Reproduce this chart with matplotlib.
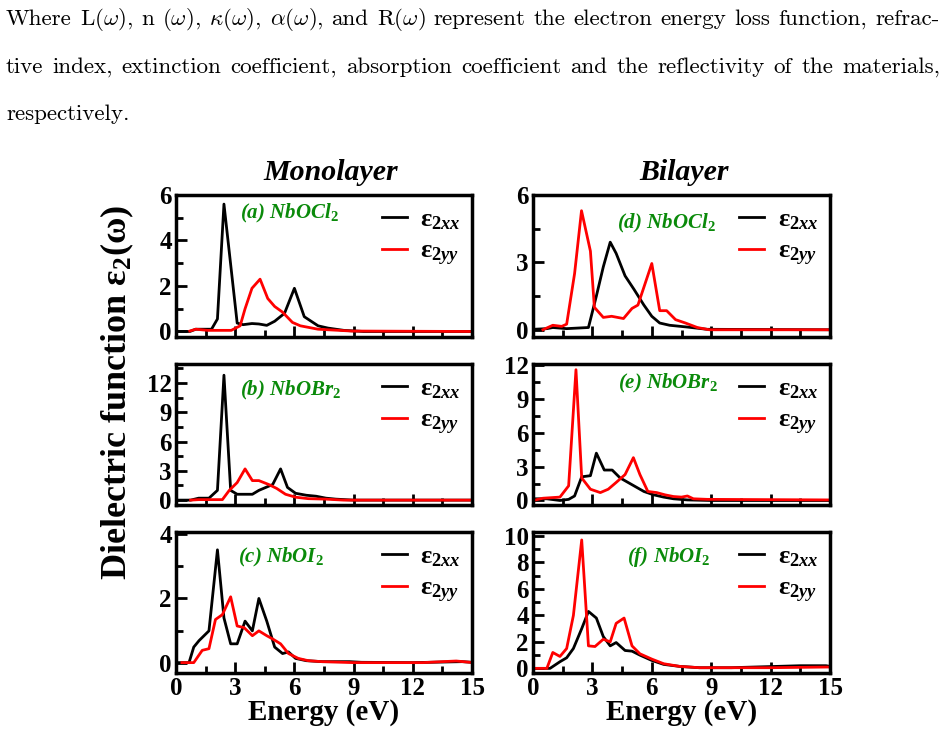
import matplotlib
matplotlib.use('Agg')
import matplotlib.pyplot as plt
from matplotlib.ticker import MultipleLocator

plt.rcParams['font.family'] = ['Liberation Serif', 'DejaVu Serif']
plt.rcParams['font.weight'] = 'bold'
plt.rcParams['mathtext.fontset'] = 'custom'
plt.rcParams['mathtext.rm'] = 'Liberation Serif:bold'
plt.rcParams['mathtext.it'] = 'Liberation Serif:italic:bold'
plt.rcParams['mathtext.bf'] = 'Liberation Serif:bold'

# ---- data (energy in eV, eps2) ----
# (a) monolayer NbOCl2
a_xx_e = [0, 0.7, 1.0, 1.8, 2.1, 2.43, 3.1, 3.4, 3.85, 4.2, 4.6, 5.0, 5.5, 6.0, 6.5, 7.2, 7.7, 8.5, 9.5, 15]
a_xx = [0.0, 0.0, 0.1, 0.1, 0.55, 5.6, 0.37, 0.3, 0.35, 0.33, 0.27, 0.45, 0.8, 1.9, 0.65, 0.25, 0.15, 0.05, 0.0, 0.0]
a_yy_e = [0.7, 1.0, 1.6, 2.8, 3.25, 3.5, 3.85, 4.26, 4.65, 5.0, 5.4, 5.9, 6.3, 7.2, 8.9, 15]
a_yy = [0.02, 0.1, 0.05, 0.05, 0.25, 1.0, 1.9, 2.3, 1.45, 1.1, 0.85, 0.4, 0.25, 0.1, 0.02, 0.0]

# (b) monolayer NbOBr2
b_xx_e = [0, 0.74, 1.15, 1.67, 2.1, 2.43, 2.77, 3.1, 3.45, 3.87, 4.2, 4.9, 5.3, 5.65, 6.06, 6.6, 7.1, 7.6, 8.1, 9.0, 15]
b_xx = [0, 0, 0.2, 0.2, 1.0, 12.8, 1.0, 0.6, 0.6, 0.6, 1.0, 1.6, 3.2, 1.3, 0.7, 0.5, 0.4, 0.2, 0.1, 0.0, 0.0]
b_yy_e = [0.74, 1.15, 2.35, 2.7, 3.1, 3.5, 3.87, 4.2, 4.7, 5.1, 5.55, 6.06, 6.7, 7.6, 8.5, 15]
b_yy = [0, 0.05, 0.05, 1.0, 1.8, 3.2, 2.0, 2.0, 1.6, 1.2, 0.6, 0.3, 0.15, 0.1, 0.0, 0.0]

# (c) monolayer NbOI2
c_xx_e = [0, 0.66, 0.9, 1.17, 1.67, 2.1, 2.43, 2.77, 3.1, 3.5, 3.87, 4.2, 4.6, 5.0, 5.4, 5.7, 6.06, 6.6, 7.4, 8.8, 9.4, 12, 14.5, 15]
c_xx = [0.02, 0.02, 0.5, 0.7, 1.0, 3.5, 1.4, 0.6, 0.6, 1.3, 1.0, 2.0, 1.3, 0.5, 0.3, 0.35, 0.15, 0.08, 0.05, 0.05, 0.03, 0.02, 0.05, 0.03]
c_yy_e = [0.3, 0.9, 1.33, 1.67, 2.0, 2.35, 2.77, 3.1, 3.45, 3.87, 4.2, 4.6, 4.9, 5.3, 5.7, 6.2, 6.7, 7.4, 9.0, 12.5, 13.5, 14.2, 14.9, 15]
c_yy = [0.02, 0.02, 0.4, 0.45, 1.35, 1.5, 2.05, 1.15, 1.1, 0.85, 1.0, 0.85, 0.75, 0.6, 0.3, 0.15, 0.08, 0.05, 0.02, 0.02, 0.05, 0.07, 0.03, 0.02]

# (d) bilayer NbOCl2
d_xx_e = [0, 0.7, 1.0, 1.7, 2.8, 3.2, 3.55, 3.9, 4.2, 4.65, 5.1, 5.6, 6.0, 6.4, 6.9, 7.8, 8.8, 15]
d_xx = [0.02, 0.05, 0.1, 0.05, 0.1, 1.5, 2.8, 3.9, 3.4, 2.4, 1.8, 1.1, 0.6, 0.3, 0.2, 0.12, 0.02, 0.0]
d_yy_e = [0.5, 1.0, 1.45, 1.7, 2.1, 2.45, 2.9, 3.1, 3.55, 3.97, 4.57, 5.0, 5.3, 6.0, 6.4, 6.75, 7.2, 7.7, 8.3, 8.9, 15]
d_yy = [0.0, 0.2, 0.15, 0.25, 2.5, 5.3, 3.5, 1.0, 0.55, 0.6, 0.5, 0.95, 1.1, 2.95, 0.85, 0.85, 0.45, 0.3, 0.1, 0.0, 0.0]

# (e) bilayer NbOBr2
e_xx_e = [0, 0.7, 1.36, 1.8, 2.1, 2.46, 2.9, 3.2, 3.6, 4.0, 4.4, 4.8, 5.2, 5.6, 6.1, 6.6, 7.1, 7.8, 9.0, 15]
e_xx = [0.15, 0.15, 0.0, 0.1, 0.4, 2.1, 2.2, 4.2, 2.7, 2.7, 2.0, 1.6, 1.2, 0.8, 0.5, 0.3, 0.15, 0.05, 0.0, 0.0]
e_yy_e = [0, 0.5, 1.36, 1.8, 2.17, 2.46, 2.9, 3.4, 3.8, 4.2, 4.65, 5.07, 5.4, 5.8, 6.25, 6.67, 7.1, 7.5, 7.8, 8.1, 8.8, 15]
e_yy = [0.0, 0.2, 0.3, 1.3, 11.6, 2.0, 1.0, 0.7, 1.0, 1.6, 2.3, 3.8, 2.3, 0.8, 0.7, 0.5, 0.35, 0.3, 0.4, 0.15, 0.1, 0.05]

# (f) bilayer NbOI2
f_xx_e = [0, 0.86, 1.36, 1.7, 2.04, 2.46, 2.8, 3.2, 3.55, 3.9, 4.2, 4.65, 5.0, 5.4, 6.0, 6.6, 7.4, 8.4, 10, 13.5, 14.8, 15]
f_xx = [0.0, 0.0, 0.5, 0.8, 1.5, 3.0, 4.3, 3.8, 2.4, 1.7, 1.95, 1.35, 1.3, 1.0, 0.6, 0.3, 0.15, 0.05, 0.05, 0.2, 0.2, 0.15]
f_yy_e = [0, 0.7, 1.0, 1.36, 1.7, 2.04, 2.46, 2.8, 3.13, 3.55, 3.9, 4.2, 4.6, 5.0, 5.4, 6.0, 6.6, 7.4, 8.4, 12, 14.8, 15]
f_yy = [0.0, 0.0, 1.2, 0.9, 1.5, 4.0, 9.7, 1.7, 1.65, 2.2, 2.0, 3.4, 3.8, 1.7, 1.1, 0.7, 0.35, 0.15, 0.05, 0.05, 0.1, 0.1]

labels = ['(a) NbOCl$_{\\mathit{2}}$', '(b) NbOBr$_{\\mathit{2}}$', '(c) NbOI$_{\\mathit{2}}$',
          '(d) NbOCl$_{\\mathit{2}}$', '(e) NbOBr$_{\\mathit{2}}$', '(f) NbOI$_{\\mathit{2}}$']

W, H = 947, 735
fig = plt.figure(figsize=(W / 100, H / 100), dpi=100)

def box(x0, y0, x1, y1):
    return [x0 / W, 1 - y1 / H, (x1 - x0) / W, (y1 - y0) / H]

cols = [(176, 472), (533, 830)]
rows = [(195, 336.5), (363.5, 505), (532, 673)]

panels = [
    (a_xx_e, a_xx, a_yy_e, a_yy, (-0.22, 6), 2, 1, (0.216, 0.87)),
    (b_xx_e, b_xx, b_yy_e, b_yy, (-0.5, 14), 3, 1.5, (0.216, 0.81)),
    (c_xx_e, c_xx, c_yy_e, c_yy, (-0.3, 4.05), 2, 1, (0.21, 0.82)),
    (d_xx_e, d_xx, d_yy_e, d_yy, (-0.3, 6), 3, 1.5, (0.283, 0.80)),
    (e_xx_e, e_xx, e_yy_e, e_yy, (-0.4, 12.15), 3, 1.5, (0.286, 0.86)),
    (f_xx_e, f_xx, f_yy_e, f_yy, (-0.35, 10.3), 2, 1, (0.316, 0.82)),
]

for i, (xe, xv, ye, yv, ylim, maj, mnr, lpos) in enumerate(panels):
    c, r = divmod(i, 3)
    ax = fig.add_axes(box(cols[c][0], rows[r][0], cols[c][1], rows[r][1]))
    ax.plot(xe, xv, color='black', lw=2.0, label='ε$_{\\mathit{2xx}}$')
    ax.plot(ye, yv, color='red', lw=2.0, label='ε$_{\\mathit{2yy}}$')
    ax.set_xlim(0, 15)
    ax.set_ylim(*ylim)
    ax.xaxis.set_major_locator(MultipleLocator(3))
    ax.xaxis.set_minor_locator(MultipleLocator(1.5))
    ax.yaxis.set_major_locator(MultipleLocator(maj))
    ax.yaxis.set_minor_locator(MultipleLocator(mnr))
    ax.tick_params(which='both', direction='in', top=False, right=False, width=2)
    ax.tick_params(which='major', length=8, labelsize=18, pad=3)
    ax.tick_params(which='minor', length=5)
    for lab in ax.get_xticklabels() + ax.get_yticklabels():
        lab.set_fontweight('bold')
    for s in ax.spines.values():
        s.set_linewidth(2.5)
    if r < 2:
        ax.tick_params(labelbottom=False)
    ax.text(lpos[0], lpos[1], labels[i], transform=ax.transAxes, color='#0a8a0a',
            fontsize=15, fontstyle='italic', fontweight='bold', va='center')
    ax.legend(loc='upper left', bbox_to_anchor=(0.65, 1.0), frameon=False,
              fontsize=19, handlelength=0.95, handletextpad=0.5, labelspacing=0.3,
              borderaxespad=0.1)

fig.text(331 / W, 1 - 172 / H, 'Monolayer', fontsize=21.5, fontstyle='italic',
         fontweight='bold', ha='center', va='center')
fig.text(684 / W, 1 - 172 / H, 'Bilayer', fontsize=21.5, fontstyle='italic',
         fontweight='bold', ha='center', va='center')
fig.text(324 / W, 1 - 713 / H, 'Energy (eV)', fontsize=21, fontweight='bold',
         ha='center', va='center')
fig.text(682 / W, 1 - 713 / H, 'Energy (eV)', fontsize=21, fontweight='bold',
         ha='center', va='center')
fig.text(117 / W, 1 - 392 / H, 'Dielectric function ε$_{2}$(ω)', fontsize=26,
         fontweight='bold', rotation=90, ha='center', va='center')

# paragraph above the figure, justified by hand
para = [
    ('Where L($\\omega$), n ($\\omega$), $\\kappa$($\\omega$), $\\alpha$($\\omega$), and R($\\omega$) '
     'represent the electron energy loss function, refrac-', 25, True),
    ('tive index, extinction coefficient, absorption coefficient and the reflectivity of the materials,', 73, True),
    ('respectively.', 120, False),
]
renderer = fig.canvas.get_renderer()
x_left, x_right = 6, 940
for line, yb, just in para:
    words = line.split(' ')
    ts = [fig.text(0, 1 - yb / H, w, fontsize=16.6, fontfamily='cmr10',
                   math_fontfamily='cm', fontweight='normal', va='baseline')
          for w in words]
    widths = [t.get_window_extent(renderer).width for t in ts]
    gap = (x_right - x_left - sum(widths)) / max(len(words) - 1, 1) if just else 6
    x = x_left
    for t, w in zip(ts, widths):
        t.set_x(x / W)
        x += w + gap

fig.savefig('out.png', dpi=100)
